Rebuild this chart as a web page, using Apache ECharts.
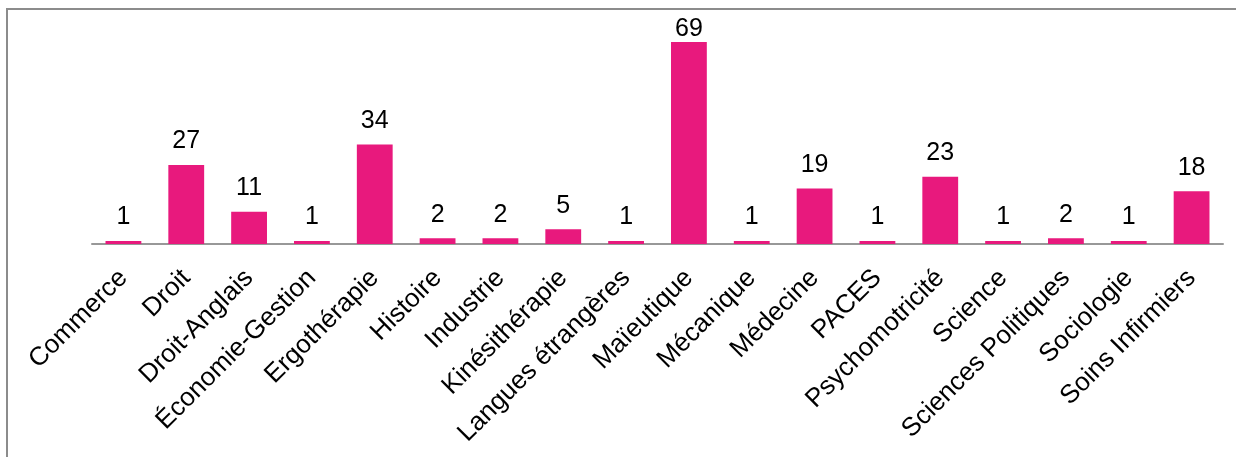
<!DOCTYPE html>
<html><head><meta charset="utf-8">
<script src="https://cdn.jsdelivr.net/npm/echarts@6/dist/echarts.min.js"></script>
<style>html,body{margin:0;padding:0;background:#fff}#c{width:1236px;height:457px}</style>
</head><body><div id="c"></div>
<script>
const categories = ["Commerce","Droit","Droit-Anglais","Économie-Gestion","Ergothérapie","Histoire","Industrie","Kinésithérapie","Langues étrangères","Maïeutique","Mécanique","Médecine","PACES","Psychomotricité","Science","Sciences Politiques","Sociologie","Soins Infirmiers"];
const values = [1,27,11,1,34,2,2,5,1,69,1,19,1,23,1,2,1,18];

const maxV = Math.max(...values);
const seriesData = values.map(v => v === maxV ? {value: v, label: {distance: 0}} : v);

const chart = echarts.init(document.getElementById('c'));
chart.setOption({
  animation:false,
  graphic:[{type:'rect',shape:{x:7,y:9,width:1240,height:460},style:{fill:'none',stroke:'#8c8c8c',lineWidth:2},silent:true}],
  grid:{left:92,right:13,top:42,bottom:213},
  xAxis:{type:'category',data:categories,
    axisLine:{lineStyle:{color:'#989898',width:2}},axisTick:{show:false},
    axisLabel:{rotate:45,interval:0,fontFamily:'Liberation Sans, Arial',fontSize:26,color:'#000',margin:30}},
  yAxis:{type:'value',min:0,max:maxV,show:false,splitLine:{show:false}},
  series:[{type:'bar',data:seriesData,barCategoryGap:'43%',
    itemStyle:{color:'#E8197D'},
    label:{show:true,position:'top',distance:11,fontFamily:'Liberation Sans, Arial',fontSize:25,color:'#000'}}]
});
</script></body></html>
